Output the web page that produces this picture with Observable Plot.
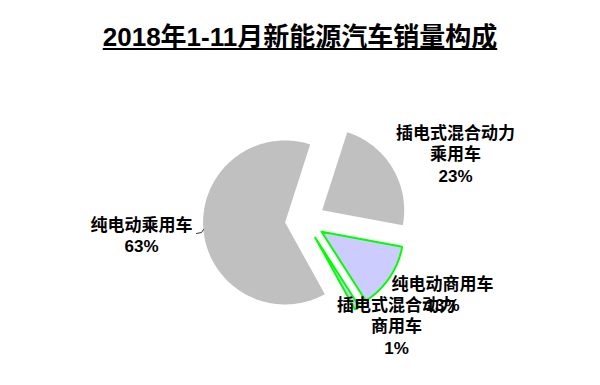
<!DOCTYPE html>
<html><head><meta charset="utf-8">
<script src="https://cdn.jsdelivr.net/npm/d3@7"></script>
<script src="https://cdn.jsdelivr.net/npm/@observablehq/plot@0.6"></script>
<style>
body{margin:0;background:#fff;width:600px;height:385px;overflow:hidden}
#title{height:62px;box-sizing:border-box;padding-top:22px;text-align:center;font:bold 26px "Liberation Sans","Noto Sans CJK SC",sans-serif;line-height:30px;text-decoration:underline;color:#000;white-space:nowrap}
</style></head><body>
<div id="title">2018年1-11月新能源汽车销量构成</div>
<div id="chart"></div>
<script>
// ---- data ----
const categories = ["插电式混合动力乘用车", "纯电动商用车", "插电式混合动力商用车", "纯电动乘用车"];
const shares = [23, 13, 1, 63];
const labelNames = ["插电式混合动力\n乘用车", "纯电动商用车", "插电式混合动力\n商用车", "纯电动乘用车"];
const pctLabels = ["23%", "13%", "1%", "63%"];

// ---- layout / style (not data) ----
const W = 600, H = 323;
const cx = 304.5, cy = 158, R = 82, explode = 20, startDeg = 17.8;
const fills = ["#c0c0c0", "#ccccff", "#ccccff", "#c0c0c0"];
const strokes = ["none", "#00ff00", "#00ff00", "none"];
const labelPos = [[455, 91], [442, 231.5], [396, 263], [141, 172.5]];
const FONT = '"Liberation Sans","Noto Sans CJK SC",sans-serif';

const total = d3.sum(shares);
let acc = startDeg * Math.PI / 180;
const slices = categories.map((c, i) => {
  const a0 = acc, a1 = acc + shares[i] / total * 2 * Math.PI;
  acc = a1;
  const mid = (a0 + a1) / 2;
  const ox = cx + explode * Math.sin(mid), oy = cy - explode * Math.cos(mid);
  const pts = [{cat: c, x: ox, y: oy}];
  const n = Math.max(4, Math.ceil((a1 - a0) / 0.02));
  for (let k = 0; k <= n; k++) {
    const t = a0 + (a1 - a0) * k / n;
    pts.push({cat: c, x: ox + R * Math.sin(t), y: oy - R * Math.cos(t)});
  }
  pts.push({cat: c, x: ox, y: oy});
  return pts;
});

const labels = categories.map((c, i) => ({
  text: labelNames[i] + "\n" + pctLabels[i], x: labelPos[i][0], y: labelPos[i][1]
}));

const leader = [{x: 196, y: 171}, {x: 201, y: 170}, {x: 203, y: 167}];

const marks = [];
slices.forEach((pts, i) => {
  marks.push(Plot.line(pts, {x: "x", y: "y", fill: fills[i], stroke: strokes[i], strokeWidth: 2, strokeLinejoin: "miter", curve: "linear"}));
});
marks.push(Plot.line(leader, {x: "x", y: "y", stroke: "#000", strokeWidth: 0.8}));
marks.push(Plot.text(labels, {x: "x", y: "y", text: "text", fontSize: 17, fontWeight: "bold", fontFamily: FONT, lineHeight: 1.25, fill: "#000", textAnchor: "middle"}));

const chart = Plot.plot({
  width: W, height: H, margin: 0,
  x: {domain: [0, W], range: [0, W], axis: null},
  y: {domain: [0, H], range: [0, H], axis: null},
  style: {background: "#fff"},
  marks
});
document.getElementById("chart").append(chart);
</script>
</body></html>
